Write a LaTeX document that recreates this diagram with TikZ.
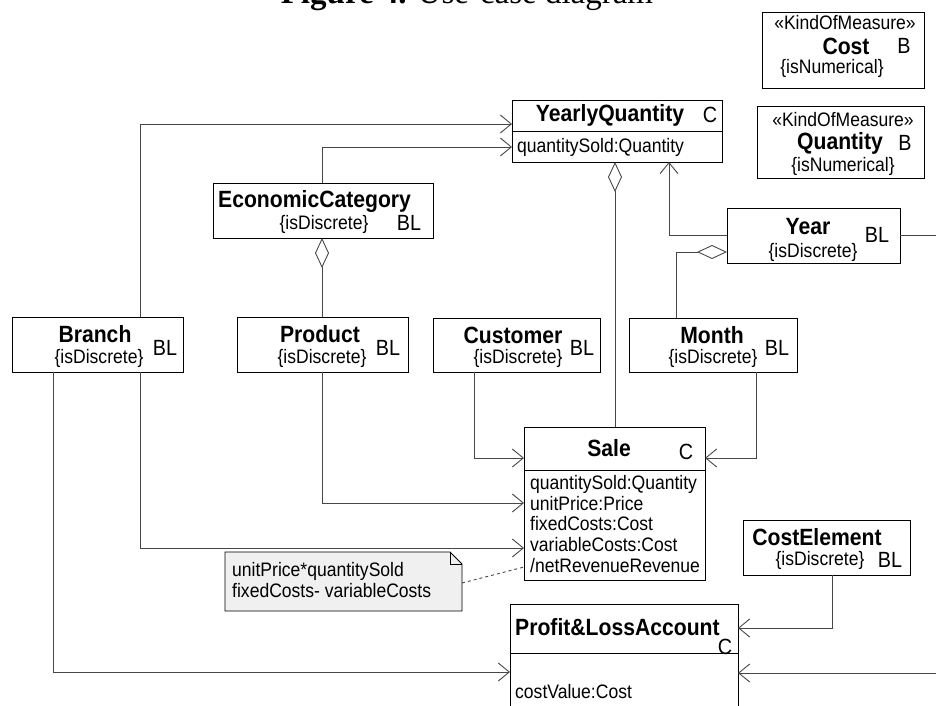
\documentclass[tikz,border=0pt]{standalone}
\usepackage{fontspec}
\setmainfont{Liberation Sans}[FakeStretch=0.9]
\newfontfamily\captionserif{Liberation Serif}
\usetikzlibrary{arrows.meta,calc}

\begin{document}
\begin{tikzpicture}[x=1pt,y=-1pt,
  box/.style={draw=black,line width=0.9pt,fill=white,inner sep=0pt,outer sep=0pt,anchor=north west},
  rule/.style={draw=black,line width=0.9pt},
  cname/.style={font=\fontsize{23.5}{26}\selectfont\bfseries,inner sep=0pt},
  ctext/.style={font=\fontsize{19.5}{20.7}\selectfont,inner sep=0pt},
  ctag/.style={font=\fontsize{22}{24}\selectfont,inner sep=0pt},
  conn/.style={draw=black!72,line width=0.9pt},
  nav/.style={conn,-{Straight Barb[length=11pt,width=18pt]}},
  agg/.style={conn,{Diamond[open,length=30pt,width=14pt]}-},
]
\useasboundingbox (0,0) rectangle (936,706);

% caption of the figure
\node[anchor=base,inner sep=0pt,font=\captionserif\fontsize{33}{36}\selectfont] (caption) at (467,4)
  {\textbf{Figure 4.} Use-case diagram};

% ---------- measures ----------
\node[box,minimum width=162pt,minimum height=76pt] (cost) at (762,12) {};
\node[ctext] (costst) at (845,23) {«KindOfMeasure»};
\node[cname] (costname) at (846,46) {Cost};
\node[ctag] (costtag) at (904,46) {B};
\node[ctext] (costprop) at (832,68) {\{isNumerical\}};

\node[box,minimum width=167pt,minimum height=72pt] (quantity) at (757,106) {};
\node[ctext] (quantityst) at (843,120) {«KindOfMeasure»};
\node[cname] (quantityname) at (840,143) {Quantity};
\node[ctag] (quantitytag) at (905,143) {B};
\node[ctext] (quantityprop) at (843,166) {\{isNumerical\}};

% ---------- cubes ----------
\node[box,minimum width=210pt,minimum height=62pt] (yq) at (512,100) {};
\draw[rule] ($(yq.north west)+(0,31)$) -- ($(yq.north east)+(0,31)$);
\node[cname] (yqname) at (610,115) {YearlyQuantity};
\node[ctag] (yqtag) at (710,115) {C};
\node[ctext,anchor=west] (yqattr) at (517,147) {quantitySold:Quantity};

\node[box,minimum width=181pt,minimum height=153pt] (sale) at (524,427) {};
\draw[rule] ($(sale.north west)+(0,43)$) -- ($(sale.north east)+(0,43)$);
\node[cname] (salename) at (609,448) {Sale};
\node[ctag] (saletag) at (686,452) {C};
\node[ctext,anchor=north west,align=left] (saleattr) at (530,475)
  {quantitySold:Quantity\\unitPrice:Price\\fixedCosts:Cost\\variableCosts:Cost\\/netRevenueRevenue};

\node[box,minimum width=228pt,minimum height=130pt] (pl) at (510,604) {};
\draw[rule] ($(pl.north west)+(0,49)$) -- ($(pl.north east)+(0,49)$);
\node[cname,anchor=west] (plname) at (515,627) {Profit\&LossAccount};
\node[ctag] (pltag) at (725,647) {C};
\node[ctext,anchor=west] (plattr) at (515,692) {costValue:Cost};

% ---------- levels ----------
\node[box,minimum width=220pt,minimum height=55pt] (econ) at (213,183) {};
\node[cname,anchor=west] (econname) at (218,201) {EconomicCategory};
\node[ctext] (econprop) at (324,224) {\{isDiscrete\}};
\node[ctag] (econtag) at (409,223) {BL};

\node[box,minimum width=173pt,minimum height=55pt] (year) at (727,208) {};
\node[cname] (yearname) at (808,227) {Year};
\node[ctext] (yearprop) at (813,252) {\{isDiscrete\}};
\node[ctag] (yeartag) at (877,235) {BL};

\node[box,minimum width=171pt,minimum height=55pt] (branch) at (12,317) {};
\node[cname] (branchname) at (95,334) {Branch};
\node[ctext] (branchprop) at (99,358) {\{isDiscrete\}};
\node[ctag] (branchtag) at (165,348) {BL};

\node[box,minimum width=171pt,minimum height=55pt] (product) at (237,317) {};
\node[cname] (productname) at (320,334) {Product};
\node[ctext] (productprop) at (322,358) {\{isDiscrete\}};
\node[ctag] (producttag) at (388,348) {BL};

\node[box,minimum width=167pt,minimum height=54pt] (customer) at (433,318) {};
\node[cname] (customername) at (513,335) {Customer};
\node[ctext] (customerprop) at (518,358) {\{isDiscrete\}};
\node[ctag] (customertag) at (582,348) {BL};

\node[box,minimum width=168pt,minimum height=54pt] (month) at (629,318) {};
\node[cname] (monthname) at (712,335) {Month};
\node[ctext] (monthprop) at (713,358) {\{isDiscrete\}};
\node[ctag] (monthtag) at (777,348) {BL};

\node[box,minimum width=167pt,minimum height=55pt] (costel) at (743,520) {};
\node[cname] (costelname) at (817,537) {CostElement};
\node[ctext] (costelprop) at (820,560) {\{isDiscrete\}};
\node[ctag] (costeltag) at (890,560) {BL};

% ---------- note ----------
\node[inner sep=0pt,outer sep=0pt,minimum width=237pt,minimum height=59pt,anchor=north west] (note) at (225,552) {};
\draw[fill=black!6,draw=black,line width=0.8pt]
  (note.north west) -- ($(note.north east)+(-12,0)$) -- ($(note.north east)+(0,12)$)
  |- (note.south west) -- cycle;
\draw[draw=black,line width=0.8pt] ($(note.north east)+(-12,0)$) |- ($(note.north east)+(0,12)$);
\node[ctext,anchor=north west,align=left] (notetext) at (232,562)
  {unitPrice*quantitySold\\fixedCosts- variableCosts};

% ---------- connectors ----------
\draw[nav] ($(branch.north west)+(128,0)$) |- ($(yq.north west)+(0,24)$);
\draw[nav] ($(econ.north west)+(109,0)$) |- ($(yq.north west)+(0,47)$);
\draw[agg] ($(econ.south west)+(109,0)$) -- ($(product.north west)+(85,0)$);
\draw[agg] ($(yq.south west)+(103,0)$) -- ($(sale.north west)+(91,0)$);
\draw[nav] ($(year.north west)+(0,27)$) -| ($(yq.south west)+(157,0)$);
\draw[agg] ($(year.north west)+(0,44)$) -| ($(month.north west)+(47,0)$);
\coordinate (yearout) at (940,235);
\draw[conn] ($(year.north east)+(0,27)$) -- (yearout);
\draw[nav] ($(customer.south west)+(41,0)$) |- ($(sale.north west)+(0,31)$);
\draw[nav] ($(month.south west)+(127,0)$) |- ($(sale.north east)+(0,31)$);
\draw[nav] ($(product.south west)+(85,0)$) |- ($(sale.north west)+(0,76)$);
\draw[nav] ($(branch.south west)+(128,0)$) |- ($(sale.north west)+(0,121)$);
\draw[nav] ($(branch.south west)+(41,0)$) |- ($(pl.north west)+(0,68)$);
\draw[nav] ($(costel.south west)+(89,0)$) |- ($(pl.north east)+(0,24)$);
\coordinate (plin) at (940,673);
\draw[nav] (plin) -- ($(pl.north east)+(0,69)$);
\draw[conn,dashed] ($(note.north east)+(0,31)$) -- ($(sale.north west)+(0,140)$);
\end{tikzpicture}
\end{document}
